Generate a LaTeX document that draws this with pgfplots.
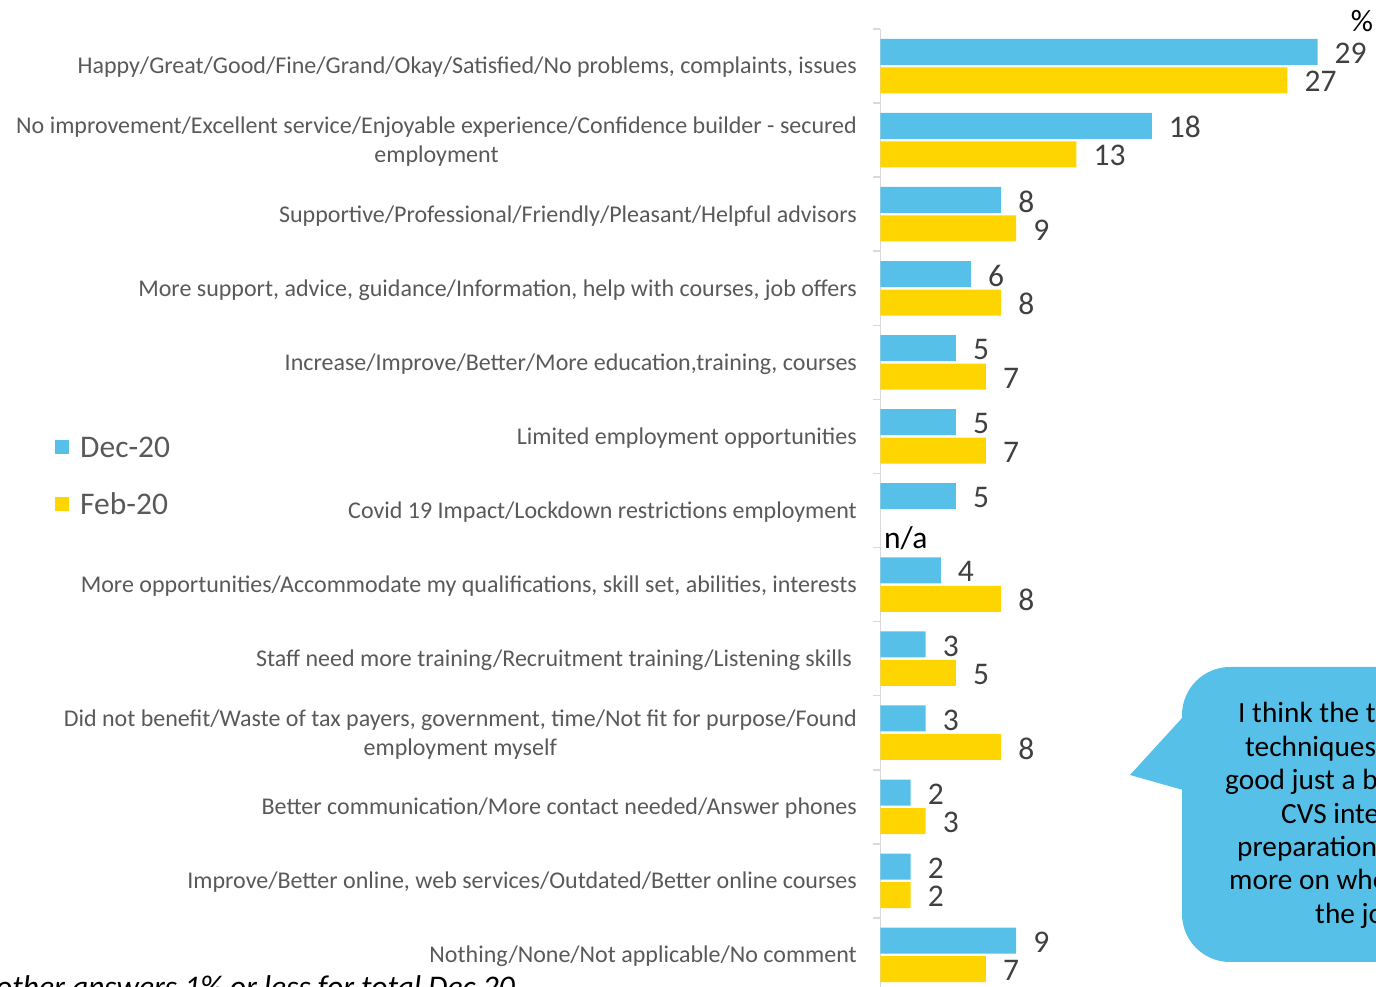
\documentclass[border=0pt]{standalone}
\usepackage{fontspec}
\setmainfont{Carlito}
\usepackage{pgfplots}
\pgfplotsset{compat=1.18}
\definecolor{cblue}{HTML}{56C0E8}
\definecolor{cyellow}{HTML}{FFD500}
\definecolor{labgray}{HTML}{595959}
\definecolor{valgray}{HTML}{404040}
\definecolor{axgray}{HTML}{D9D9D9}
\begin{document}
\begin{tikzpicture}[x=1pt,y=1pt]
\path[use as bounding box] (0,0) rectangle (1376,987);
% speech bubble
\fill[cblue, rounded corners=48pt] (1182,25) rectangle (1460,320);
\fill[cblue] (1183,270) -- (1130,212) -- (1183,197) -- cycle;
\begin{scope}[every node/.style={anchor=base west, inner sep=0pt, font=\fontsize{29.3}{34}\selectfont}]
\node at (1238,264) {I think the training};
\node at (1245,230.6) {techniques were};
\node at (1225,197.2) {good just a bit more};
\node at (1281,163.8) {CVS interview};
\node at (1237,130.4) {preparation and};
\node at (1229,97) {more on where to find};
\node at (1315,63.6) {the jobs};
\end{scope}
\node[anchor=base west, inner sep=0pt, font=\fontsize{31.5}{36}\selectfont\itshape] at (-4,-11) {other answers 1\% or less for total Dec 20};
\node[anchor=center, inner sep=0pt, font=\fontsize{31}{36}\selectfont] at (1362,966) {\%};
\begin{axis}[
  at={(880.5pt,958pt)}, anchor=north west,
  scale only axis, width=452.1pt, height=963pt,
  xmin=0, xmax=30, ymin=0.5, ymax=13.5,
  clip=false,
  axis x line=none, axis y line*=left,
  y axis line style={color=axgray, line width=1.5pt},
  xbar, bar width=26pt,
  ytick={1,...,13},
  yticklabels={
    Nothing/None/Not applicable/No comment,
    Improve/Better online{,} web services/Outdated/Better online courses,
    Better communication/More contact needed/Answer phones,
    {Did not benefit/Waste of tax payers{,} government{,} time/Not fit for purpose/Found\\employment myself},
    Staff need more training/Recruitment training/Listening skills\hspace{5pt},
    More opportunities/Accommodate my qualifications{,} skill set{,} abilities{,} interests,
    Covid 19 Impact/Lockdown restrictions employment,
    Limited employment opportunities,
    Increase/Improve/Better/More education{,}training{,} courses,
    More support{,} advice{,} guidance/Information{,} help with courses{,} job offers,
    Supportive/Professional/Friendly/Pleasant/Helpful advisors,
    {No improvement/Excellent service/Enjoyable experience/Confidence builder - secured\\employment},
    Happy/Great/Good/Fine/Grand/Okay/Satisfied/No problems{,} complaints{,} issues},
  yticklabel style={font=\fontsize{24}{29}\selectfont, color=labgray, align=center, inner sep=0pt, xshift=-23.5pt, yshift=-1.5pt},
  major tick length=0pt,
  minor ytick={0.5,1.5,...,13.5},
  minor tick length=7pt,
  tick align=outside,
  minor tick style={color=axgray, line width=1.5pt},
  /pgf/number format/assume math mode=true,
  nodes near coords,
  nodes near coords style={anchor=west, inner sep=0pt, xshift=17pt, yshift=-1.5pt, font=\fontsize{31.5}{36}\selectfont, color=valgray},
  legend style={at={(-1.8259,0.5363)}, anchor=west, draw=none, fill=none, inner sep=0pt,
    nodes={inner sep=0pt, text height=21pt, text depth=0pt, font=\fontsize{31.5}{36}\selectfont, color=labgray},
    row sep=36pt, /tikz/every odd column/.append style={column sep=11pt}},
  legend cell align=left,
  legend image code/.code={\fill[#1] (0pt,-7pt) rectangle (14pt,7pt);},
]
\addplot[fill=cblue, draw=none, bar shift=14.25pt] coordinates {
 (29,13) (18,12) (8,11) (6,10) (5,9) (5,8) (5,7) (4,6) (3,5) (3,4) (2,3) (2,2) (9,1)};
\addplot[fill=cyellow, draw=none, bar shift=-14.25pt] coordinates {
 (27,13) (13,12) (9,11) (8,10) (7,9) (7,8) (8,6) (5,5) (8,4) (3,3) (2,2) (7,1)};
\legend{Dec-20, Feb-20}
\node[anchor=west, inner sep=0pt, xshift=3.5pt, yshift=-27.5pt, font=\fontsize{31.5}{36}\selectfont, text=black] at (axis cs:0,7) {n/a};
\end{axis}
\end{tikzpicture}
\end{document}
